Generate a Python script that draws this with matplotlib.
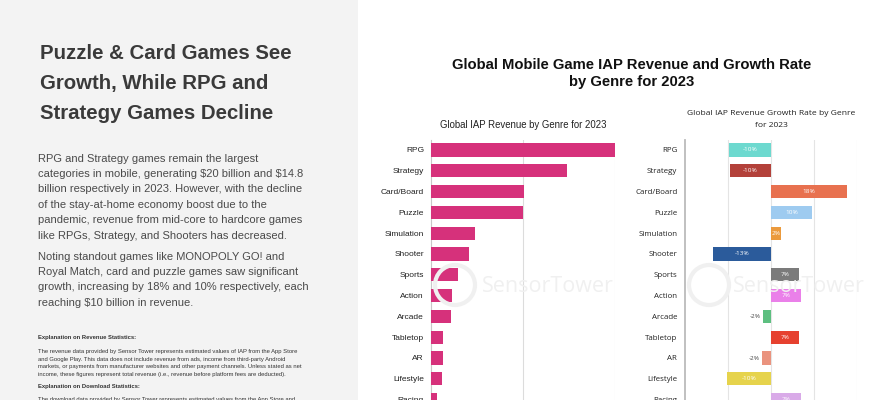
import matplotlib
matplotlib.use('Agg')
import matplotlib.pyplot as plt
from matplotlib.patches import Rectangle, Circle
import numpy as np

# Data
genres = ['RPG', 'Strategy', 'Card/Board', 'Puzzle', 'Simulation', 'Shooter', 'Sports',
          'Action', 'Arcade', 'Tabletop', 'AR', 'Lifestyle', 'Racing']
revenue_bn = [20.0, 14.8, 10.1, 10.0, 4.8, 4.1, 2.9, 2.25, 2.2, 1.35, 1.3, 1.2, 0.6]
growth_pct = [-9.8, -9.5, 17.7, 9.6, 2.3, -13.4, 6.6, 6.9, -1.8, 6.6, -2.0, -10.2, 6.9]
growth_colors = ['#6dd9cf', '#b3413a', '#e8714f', '#9ecbf0', '#eb9a3c', '#2b5b9b', '#7b7b7b',
                 '#ea80e9', '#5dbf80', '#e6412f', '#ea937e', '#e6d34c', '#d9aae8']

W, H = 889, 400
fig = plt.figure(figsize=(W / 100, H / 100), dpi=100)
fig.patch.set_facecolor('white')


def fx(x):
    return x / W


def fy(y):
    return 1 - y / H


# left grey panel
fig.add_artist(Rectangle((0, 0), fx(358), 1, transform=fig.transFigure,
                         facecolor='#f3f3f3', edgecolor='none', zorder=0))

fig.text(fx(40), fy(83.5), 'Puzzle & Card Games See\nGrowth, While RPG and\nStrategy Games Decline',
         family='Liberation Sans', weight='bold', fontsize=14.7, color='#3a3a3a',
         va='center', ha='left', linespacing=1.72)

para1 = ('RPG and Strategy games remain the largest\n'
         'categories in mobile, generating \\$20 billion and \\$14.8\n'
         'billion respectively in 2023. However, with the decline\n'
         'of the stay-at-home economy boost due to the\n'
         'pandemic, revenue from mid-core to hardcore games\n'
         'like RPGs, Strategy, and Shooters has decreased.')
para2 = ('Noting standout games like MONOPOLY GO! and\n'
         'Royal Match, card and puzzle games saw significant\n'
         'growth, increasing by 18% and 10% respectively, each\n'
         'reaching \\$10 billion in revenue.')
body = dict(family='Liberation Sans', fontsize=8.0, color='#4a4a4a',
            va='top', ha='left', linespacing=1.68)
fig.text(fx(38), fy(153.5), para1, **body)
fig.text(fx(38), fy(251.5), para2, **body)

small = dict(family='Liberation Sans', fontsize=4.2, color='#333333', ha='left', va='center')
fig.text(fx(38), fy(338), 'Explanation on Revenue Statistics:', weight='bold', **small)
expl_lines = [
    'The revenue data provided by Sensor Tower represents estimated values of IAP from the App Store',
    'and Google Play. This data does not include revenue from ads, income from third-party Android',
    'markets, or payments from manufacturer websites and other payment channels. Unless stated as net',
    'income, these figures represent total revenue (i.e., revenue before platform fees are deducted).',
]
for i, line in enumerate(expl_lines):
    fig.text(fx(38), fy(351.5 + i * 7.7), line, **small)
fig.text(fx(38), fy(386.5), 'Explanation on Download Statistics:', weight='bold', **small)
fig.text(fx(38), fy(399.5), 'The download data provided by Sensor Tower represents estimated values from the App Store and',
         **small)

# main title
fig.text(fx(632), fy(73.5), 'Global Mobile Game IAP Revenue and Growth Rate\nby Genre for 2023',
         family='Liberation Sans', weight='bold', fontsize=10.7, color='#111111',
         ha='center', va='center', linespacing=1.32)

# chart geometry (rows)
row0, step = 150, 20.8
n = len(genres)
top_px = row0 - step / 2
bot_px = row0 + (n - 0.5) * step
y = np.arange(n)

# watermarks
for cx, tx in [(455, 482), (709, 733)]:
    fig.add_artist(Circle((cx / 100, (H - 285) / 100), 0.2, transform=fig.dpi_scale_trans,
                          fill=False, edgecolor='#f0f0f0', lw=3, zorder=0.5))
    fig.text(fx(tx), fy(286), 'SensorTower', family='Open Sans', fontsize=15.5,
             color='#f0f0f0', ha='left', va='center', zorder=0.5)

# left chart: revenue
ax1 = fig.add_axes([fx(431), fy(bot_px), fx(615) - fx(431), (bot_px - top_px) / H])
ax1.patch.set_alpha(0)
ax1.barh(y, revenue_bn, height=0.63, color='#d6317b', zorder=3)
ax1.set_xlim(0, 20)
ax1.set_ylim(n - 0.5, -0.5)
ax1.set_xticks([10, 20])
ax1.xaxis.grid(True, color='#dcdcdc', lw=0.8)
ax1.tick_params(axis='x', bottom=False, labelbottom=False)
ax1.set_yticks(y)
ax1.set_yticklabels(genres, family='Liberation Sans', fontsize=6.0, color='#222222')
ax1.tick_params(axis='y', left=False, length=0, pad=5)
for s in ['top', 'right', 'bottom']:
    ax1.spines[s].set_visible(False)
ax1.spines['left'].set_color('#c8c8c8')
ax1.set_title('Global IAP Revenue by Genre for 2023', family='Liberation Sans',
              fontsize=6.9, color='#222222', pad=8)

# right chart: growth
ax2 = fig.add_axes([fx(685), fy(bot_px), fx(857) - fx(685), (bot_px - top_px) / H])
ax2.patch.set_alpha(0)
ax2.barh(y, growth_pct, height=0.63, color=growth_colors, zorder=3)
ax2.set_xlim(-20, 20)
ax2.set_ylim(n - 0.5, -0.5)
ax2.set_xticks([-10, 0, 10, 20])
ax2.xaxis.grid(True, color='#e4e4e4', lw=0.8)
ax2.tick_params(axis='x', bottom=False, labelbottom=False)
ax2.set_yticks(y)
ax2.set_yticklabels(genres, family='Open Sans', fontsize=5.7, color='#222222')
ax2.tick_params(axis='y', left=False, length=0, pad=5.5)
for s in ['top', 'right', 'bottom']:
    ax2.spines[s].set_visible(False)
ax2.spines['left'].set_color('#bbbbbb')
ax2.spines['left'].set_linewidth(1.3)
ax2.set_title('Global IAP Revenue Growth Rate by Genre\nfor 2023', family='Open Sans',
              fontsize=6.1, color='#222222', pad=9, linespacing=2.0)

for yi, v in zip(y, growth_pct):
    lab = f'{round(v)}%'
    if abs(v) > 2.1:
        ax2.text(v / 2, yi, lab, ha='center', va='center', fontsize=4.6,
                 color='white', family='Open Sans', zorder=4)
    else:
        ax2.text(v - 0.5, yi, lab, ha='right', va='center', fontsize=4.6,
                 color='#444444', family='Open Sans', zorder=4)

plt.savefig('out.png', dpi=100)
